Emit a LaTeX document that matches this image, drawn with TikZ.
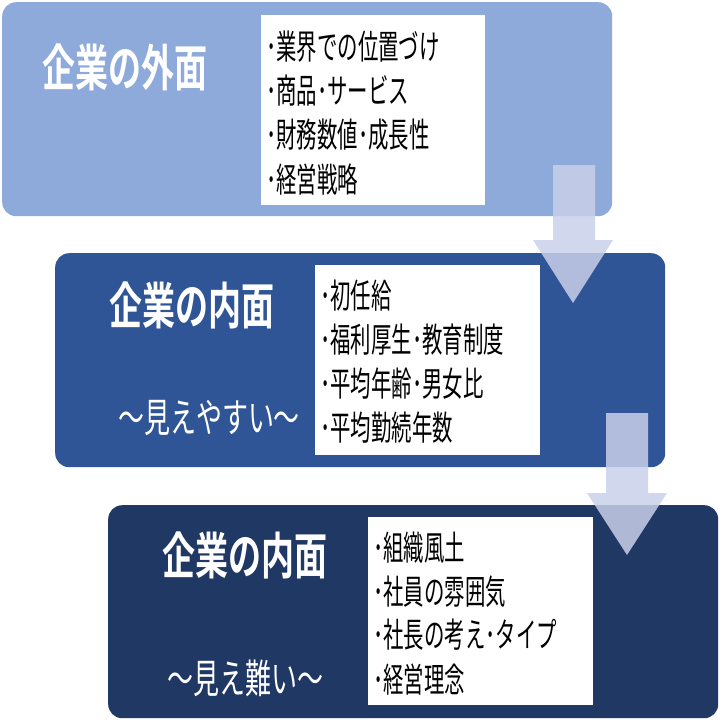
\documentclass[tikz,border=0pt]{standalone}
\usepackage{fontspec}
\newfontfamily\jptitle[FakeStretch=0.66]{Noto Sans CJK JP Bold}
\newfontfamily\jpsub[FakeStretch=0.65]{Noto Sans CJK JP}
\newfontfamily\jpbul[FakeStretch=0.6]{Noto Sans CJK JP}
\definecolor{cA}{HTML}{8EAADB}
\definecolor{cB}{HTML}{2F5597}
\definecolor{cC}{HTML}{203864}
\definecolor{cArr}{HTML}{C9D0EA}
\tikzset{
  panel/.style={rounded corners=14pt, anchor=north west, inner sep=0pt, draw=none},
  listbox/.style={fill=white, anchor=north west, inner sep=0pt, draw=none},
  ttl/.style={text=white, font=\jptitle\fontsize{50}{52}\selectfont, inner sep=0pt},
  subttl/.style={text=white, font=\jpsub\fontsize{40}{42}\selectfont, inner sep=0pt},
  bul/.style={text=black, font=\jpbul\fontsize{34}{36}\selectfont, anchor=west, inner sep=0pt},
  blockarrow/.style={fill=cArr, fill opacity=0.85, draw=none}
}
\begin{document}
\begin{tikzpicture}[x=1pt,y=-1pt]
\useasboundingbox (0,0) rectangle (720,720);
% panel 1
\node[panel, fill=cA, minimum width=610pt, minimum height=214pt] (p1) at (2,2) {};
\node[listbox, minimum width=224pt, minimum height=190pt] (l1) at (261,15) {};
\node[ttl] (h1) at (125,67) {企業の外面};
\node[bul] (a1) at (266,47) {･業界での位置づけ};
\node[bul] (a2) at (266,91) {･商品･サービス};
\node[bul] (a3) at (266,135) {･財務数値･成長性};
\node[bul] (a4) at (266,180) {･経営戦略};
% panel 2
\node[panel, fill=cB, minimum width=610pt, minimum height=214pt] (p2) at (55,253) {};
\node[listbox, minimum width=225pt, minimum height=190pt] (l2) at (315,265) {};
\node[ttl] (h2) at (192,305) {企業の内面};
\node[subttl] (s2) at (209,418) {～見えやすい～};
\node[bul] (b1) at (320,296) {･初任給};
\node[bul] (b2) at (320,340) {･福利厚生･教育制度};
\node[bul] (b3) at (320,384) {･平均年齢･男女比};
\node[bul] (b4) at (320,428) {･平均勤続年数};
% arrow 1
\fill[blockarrow] (553,165) -- (595,165) -- (595,240) -- (613,240) -- (573,303) -- (533,240) -- (553,240) -- cycle;
% panel 3
\node[panel, fill=cC, minimum width=610pt, minimum height=213pt] (p3) at (108,505) {};
\node[listbox, minimum width=225pt, minimum height=188pt] (l3) at (368,517) {};
\node[ttl] (h3) at (245,555) {企業の内面};
\node[subttl] (s3) at (245,678) {～見え難い～};
\node[bul] (c1) at (373,548) {･組織風土};
\node[bul] (c2) at (373,592) {･社員の雰囲気};
\node[bul] (c3) at (373,635) {･社長の考え･タイプ};
\node[bul] (c4) at (373,680) {･経営理念};
% arrow 2
\fill[blockarrow] (606,413) -- (648,413) -- (648,493) -- (667,493) -- (627,555) -- (587,493) -- (606,493) -- cycle;
\end{tikzpicture}
\end{document}
